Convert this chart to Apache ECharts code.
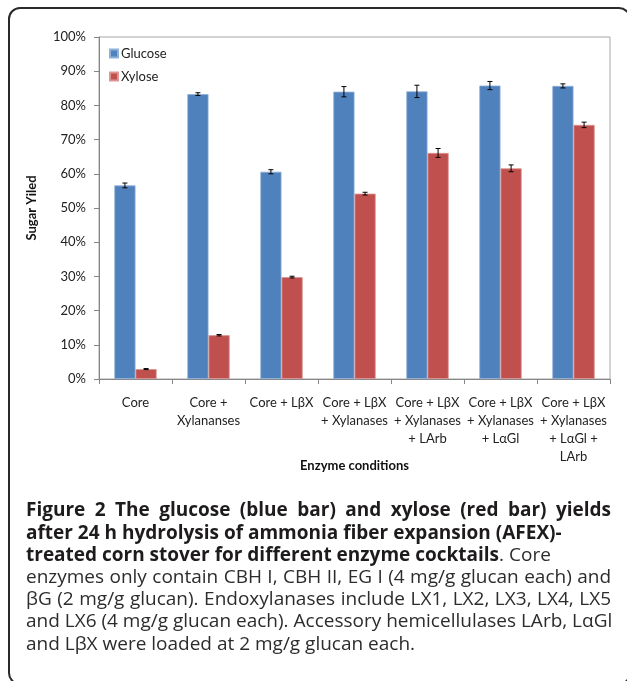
<!DOCTYPE html>
<html>
<head>
<meta charset="utf-8">
<script src="https://cdn.jsdelivr.net/npm/echarts@6/dist/echarts.min.js"></script>
<style>
  html, body { margin: 0; padding: 0; background: #fff; }
  #chart { width: 627px; height: 681px; }
</style>
</head>
<body>
<div id="chart"></div>
<script>
// Enzyme cocktails on the x axis
const categories = [
  'Core',
  'Core +\nXylananses',
  'Core + L\u03b2X',
  'Core + L\u03b2X\n+ Xylanases',
  'Core + L\u03b2X\n+ Xylanases\n+ LArb',
  'Core + L\u03b2X\n+ Xylanases\n+ L\u03b1Gl',
  'Core + L\u03b2X\n+ Xylanases\n+ L\u03b1Gl +\nLArb'
];

// Sugar yields (%) and their standard deviations
const glucose    = [56.6, 83.3, 60.6, 84.0, 84.1, 85.8, 85.7];
const glucoseErr = [0.7, 0.4, 0.6, 1.5, 1.8, 1.2, 0.6];
const xylose     = [2.9, 12.8, 29.8, 54.2, 66.1, 61.6, 74.3];
const xyloseErr  = [0.15, 0.2, 0.25, 0.4, 1.3, 1.0, 0.8];

const yTicks = [0, 10, 20, 30, 40, 50, 60, 70, 80, 90, 100];

// Figure caption, one entry per printed line: [style, text] parts
const captionLines = [
  { justify: true,  parts: [['b', 'Figure 2 The glucose (blue bar) and xylose (red bar) yields']] },
  { justify: false, parts: [['b', 'after 24 h hydrolysis of ammonia fiber expansion (AFEX)-']] },
  { justify: false, parts: [['b', 'treated corn stover for different enzyme cocktails'], ['n', '. Core']] },
  { justify: true,  parts: [['n', 'enzymes only contain CBH I, CBH II, EG I (4 mg/g glucan each) and']] },
  { justify: true,  parts: [['n', '\u03b2G (2 mg/g glucan). Endoxylanases include LX1, LX2, LX3, LX4, LX5']] },
  { justify: true,  parts: [['n', 'and LX6 (4 mg/g glucan each). Accessory hemicellulases LArb, L\u03b1Gl']] },
  { justify: false, parts: [['n', 'and L\u03b2X were loaded at 2 mg/g glucan each.']] }
];

const BLUE = '#4f81bd';
const RED = '#c0504d';
const BAR_FRAC = 0.29;
const FONT = 'Lato, "Liberation Sans", sans-serif';
const CAP_FAMILY = '"Open Sans", "Noto Sans", sans-serif';
const CAP_SIZE = 19;
const CAP_LEFT = 26, CAP_RIGHT = 611, CAP_TOP = 511, CAP_STEP = 22.2;
const capStyles = {
  b: { weight: 'bold', fill: '#1e1b1c' },
  n: { weight: 'normal', fill: '#2e2b2c' }
};

function errorSeries(name, values, errs, side) {
  return {
    type: 'custom',
    name: name + ' error',
    z: 5,
    silent: true,
    encode: { x: 0, y: 1 },
    data: values.map((v, i) => [i, v, errs[i]]),
    renderItem: function (params, api) {
      const band = api.size([1, 0])[0];
      const bw = band * BAR_FRAC;
      const c = api.value(0), v = api.value(1), e = api.value(2);
      const x = api.coord([c, v])[0] + side * bw / 2;
      const yTop = api.coord([c, v + e])[1];
      const yBot = api.coord([c, v - e])[1];
      const cap = 2.5;
      const style = { stroke: '#000', lineWidth: 1 };
      return {
        type: 'group',
        children: [
          { type: 'line', shape: { x1: x, y1: yTop, x2: x, y2: yBot }, style: style },
          { type: 'line', shape: { x1: x - cap, y1: yTop, x2: x + cap, y2: yTop }, style: style },
          { type: 'line', shape: { x1: x - cap, y1: yBot, x2: x + cap, y2: yBot }, style: style }
        ]
      };
    }
  };
}

// Lay out the caption word by word so that full lines can be justified
function captionGraphics() {
  const ctx = document.createElement('canvas').getContext('2d');
  const fontOf = k => capStyles[k].weight + ' ' + CAP_SIZE + 'px ' + CAP_FAMILY;
  const out = [];
  captionLines.forEach((line, li) => {
    const tokens = [];
    line.parts.forEach(([k, text]) => {
      text.split(/( )/).forEach(t => {
        if (t === '') return;
        ctx.font = fontOf(k);
        tokens.push({ k: k, t: t, space: t === ' ', w: ctx.measureText(t).width });
      });
    });
    const total = tokens.reduce((s, t) => s + t.w, 0);
    const nSpaces = tokens.filter(t => t.space).length;
    const extra = line.justify && nSpaces ? Math.max(0, (CAP_RIGHT - CAP_LEFT - total) / nSpaces) : 0;
    let x = CAP_LEFT;
    const y = CAP_TOP + li * CAP_STEP;
    tokens.forEach(tok => {
      if (tok.space) { x += tok.w + extra; return; }
      out.push({
        type: 'text', silent: true, x: x, y: y,
        style: {
          text: tok.t,
          fontFamily: CAP_FAMILY, fontSize: CAP_SIZE, fontWeight: capStyles[tok.k].weight,
          fill: capStyles[tok.k].fill, verticalAlign: 'middle', align: 'left'
        }
      });
      x += tok.w;
    });
  });
  return out;
}

const chart = echarts.init(document.getElementById('chart'), null, { renderer: 'canvas' });

chart.setOption({
  animation: false,
  backgroundColor: '#fff',
  textStyle: { fontFamily: FONT },
  grid: {
    left: 99, right: 17, top: 37, bottom: 302,
    show: true, borderColor: '#a6a6a6', borderWidth: 1, backgroundColor: 'transparent'
  },
  legend: {
    orient: 'vertical',
    left: 104, top: 42,
    itemWidth: 8, itemHeight: 8, itemGap: 10,
    icon: 'rect',
    data: ['Glucose', 'Xylose'],
    textStyle: { fontFamily: FONT, fontSize: 13, color: '#222', padding: [0, 0, 0, -2] }
  },
  xAxis: {
    type: 'category',
    data: categories,
    name: 'Enzyme conditions',
    nameLocation: 'middle',
    nameGap: 80,
    nameMoveOverlap: false,
    nameTextStyle: { fontFamily: FONT, fontSize: 13, fontWeight: 'bold', color: '#111' },
    axisLine: { lineStyle: { color: '#868686', width: 1 } },
    axisTick: { show: true, length: 5, lineStyle: { color: '#868686' } },
    axisLabel: { interval: 0, margin: 15, fontSize: 13, lineHeight: 18, color: '#222', fontFamily: FONT }
  },
  yAxis: {
    type: 'value',
    min: 0, max: 100, interval: 10,
    name: 'Sugar Yiled',
    nameLocation: 'middle',
    nameRotate: 90,
    nameGap: 61,
    nameMoveOverlap: false,
    nameTextStyle: { fontFamily: FONT, fontSize: 13, fontWeight: 'bold', color: '#111' },
    axisLine: { show: true, lineStyle: { color: '#868686', width: 1 } },
    axisTick: { show: true, length: 5, lineStyle: { color: '#868686' } },
    splitLine: { show: false },
    axisLabel: {
      margin: 13, fontSize: 13, color: '#222', fontFamily: FONT,
      formatter: v => (yTicks.indexOf(v) >= 0 ? v + '%' : '')
    }
  },
  series: [
    {
      name: 'Glucose', type: 'bar', data: glucose,
      barWidth: (BAR_FRAC * 100) + '%', barGap: '0%',
      itemStyle: { color: BLUE, borderColor: '#8fb0d8', borderWidth: 0.8 }
    },
    {
      name: 'Xylose', type: 'bar', data: xylose,
      barWidth: (BAR_FRAC * 100) + '%', barGap: '0%',
      itemStyle: { color: RED, borderColor: '#dc9593', borderWidth: 0.8 }
    },
    errorSeries('Glucose', glucose, glucoseErr, -1),
    errorSeries('Xylose', xylose, xyloseErr, 1)
  ],
  graphic: [
    {
      type: 'rect',
      silent: true,
      shape: { x: 9, y: 8, width: 621, height: 676, r: 11 },
      style: { fill: 'none', stroke: '#2a2a2a', lineWidth: 2 }
    }
  ].concat(captionGraphics())
});
</script>
</body>
</html>
